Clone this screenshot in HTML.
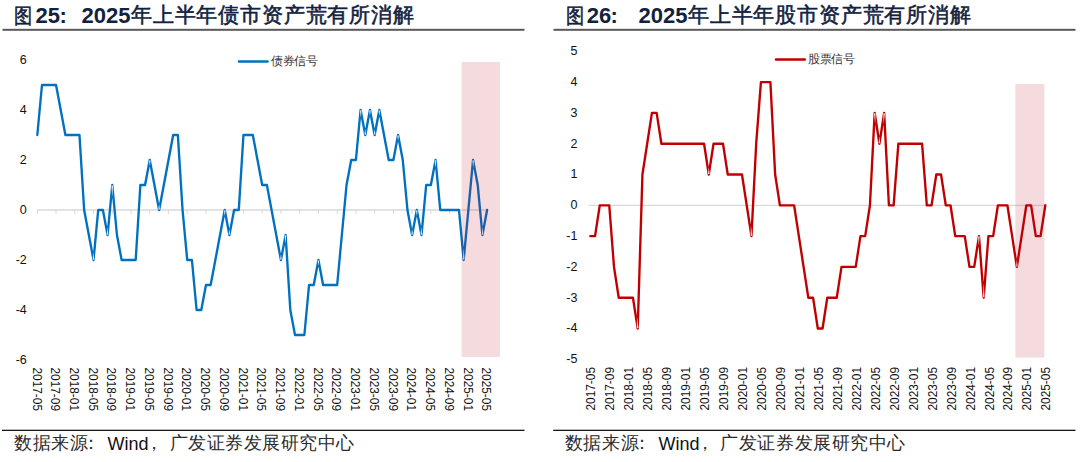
<!DOCTYPE html>
<html><head><meta charset="utf-8">
<style>
html,body{margin:0;padding:0;background:#fff;}
body{width:1080px;height:462px;overflow:hidden;position:relative;}
svg{position:absolute;left:0;top:0;}
</style></head><body>
<svg width="1080" height="462" viewBox="0 0 1080 462" font-family="'Liberation Sans', sans-serif">
<rect x="2.5" y="28.8" width="522" height="2" fill="#595959"/>
<rect x="553.5" y="28.8" width="522" height="2" fill="#595959"/>
<rect x="2" y="429.7" width="522.5" height="1.3" fill="#1a1a1a"/>
<rect x="553.2" y="429.7" width="522.3" height="1.3" fill="#1a1a1a"/>
<line x1="37.3" y1="210.0" x2="487.3" y2="210.0" stroke="#d9d9d9" stroke-width="1.3"/>
<line x1="37.30" y1="210.0" x2="37.30" y2="214.0" stroke="#d9d9d9" stroke-width="1"/>
<line x1="56.04" y1="210.0" x2="56.04" y2="214.0" stroke="#d9d9d9" stroke-width="1"/>
<line x1="74.78" y1="210.0" x2="74.78" y2="214.0" stroke="#d9d9d9" stroke-width="1"/>
<line x1="93.53" y1="210.0" x2="93.53" y2="214.0" stroke="#d9d9d9" stroke-width="1"/>
<line x1="112.27" y1="210.0" x2="112.27" y2="214.0" stroke="#d9d9d9" stroke-width="1"/>
<line x1="131.01" y1="210.0" x2="131.01" y2="214.0" stroke="#d9d9d9" stroke-width="1"/>
<line x1="149.75" y1="210.0" x2="149.75" y2="214.0" stroke="#d9d9d9" stroke-width="1"/>
<line x1="168.49" y1="210.0" x2="168.49" y2="214.0" stroke="#d9d9d9" stroke-width="1"/>
<line x1="187.23" y1="210.0" x2="187.23" y2="214.0" stroke="#d9d9d9" stroke-width="1"/>
<line x1="205.98" y1="210.0" x2="205.98" y2="214.0" stroke="#d9d9d9" stroke-width="1"/>
<line x1="224.72" y1="210.0" x2="224.72" y2="214.0" stroke="#d9d9d9" stroke-width="1"/>
<line x1="243.46" y1="210.0" x2="243.46" y2="214.0" stroke="#d9d9d9" stroke-width="1"/>
<line x1="262.20" y1="210.0" x2="262.20" y2="214.0" stroke="#d9d9d9" stroke-width="1"/>
<line x1="280.94" y1="210.0" x2="280.94" y2="214.0" stroke="#d9d9d9" stroke-width="1"/>
<line x1="299.68" y1="210.0" x2="299.68" y2="214.0" stroke="#d9d9d9" stroke-width="1"/>
<line x1="318.43" y1="210.0" x2="318.43" y2="214.0" stroke="#d9d9d9" stroke-width="1"/>
<line x1="337.17" y1="210.0" x2="337.17" y2="214.0" stroke="#d9d9d9" stroke-width="1"/>
<line x1="355.91" y1="210.0" x2="355.91" y2="214.0" stroke="#d9d9d9" stroke-width="1"/>
<line x1="374.65" y1="210.0" x2="374.65" y2="214.0" stroke="#d9d9d9" stroke-width="1"/>
<line x1="393.39" y1="210.0" x2="393.39" y2="214.0" stroke="#d9d9d9" stroke-width="1"/>
<line x1="412.13" y1="210.0" x2="412.13" y2="214.0" stroke="#d9d9d9" stroke-width="1"/>
<line x1="430.88" y1="210.0" x2="430.88" y2="214.0" stroke="#d9d9d9" stroke-width="1"/>
<line x1="449.62" y1="210.0" x2="449.62" y2="214.0" stroke="#d9d9d9" stroke-width="1"/>
<line x1="468.36" y1="210.0" x2="468.36" y2="214.0" stroke="#d9d9d9" stroke-width="1"/>
<line x1="487.10" y1="210.0" x2="487.10" y2="214.0" stroke="#d9d9d9" stroke-width="1"/>
<text x="26.8" y="64.1" text-anchor="end" font-size="12.5" fill="#111">6</text>
<text x="26.8" y="114.1" text-anchor="end" font-size="12.5" fill="#111">4</text>
<text x="26.8" y="164.1" text-anchor="end" font-size="12.5" fill="#111">2</text>
<text x="26.8" y="214.1" text-anchor="end" font-size="12.5" fill="#111">0</text>
<text x="26.8" y="264.1" text-anchor="end" font-size="12.5" fill="#111">-2</text>
<text x="26.8" y="314.1" text-anchor="end" font-size="12.5" fill="#111">-4</text>
<text x="26.8" y="364.1" text-anchor="end" font-size="12.5" fill="#111">-6</text>
<text transform="translate(32.50,367.5) rotate(90)" font-size="13.6" textLength="43.5" lengthAdjust="spacingAndGlyphs" fill="#111">2017-05</text>
<text transform="translate(51.24,367.5) rotate(90)" font-size="13.6" textLength="43.5" lengthAdjust="spacingAndGlyphs" fill="#111">2017-09</text>
<text transform="translate(69.98,367.5) rotate(90)" font-size="13.6" textLength="43.5" lengthAdjust="spacingAndGlyphs" fill="#111">2018-01</text>
<text transform="translate(88.73,367.5) rotate(90)" font-size="13.6" textLength="43.5" lengthAdjust="spacingAndGlyphs" fill="#111">2018-05</text>
<text transform="translate(107.47,367.5) rotate(90)" font-size="13.6" textLength="43.5" lengthAdjust="spacingAndGlyphs" fill="#111">2018-09</text>
<text transform="translate(126.21,367.5) rotate(90)" font-size="13.6" textLength="43.5" lengthAdjust="spacingAndGlyphs" fill="#111">2019-01</text>
<text transform="translate(144.95,367.5) rotate(90)" font-size="13.6" textLength="43.5" lengthAdjust="spacingAndGlyphs" fill="#111">2019-05</text>
<text transform="translate(163.69,367.5) rotate(90)" font-size="13.6" textLength="43.5" lengthAdjust="spacingAndGlyphs" fill="#111">2019-09</text>
<text transform="translate(182.43,367.5) rotate(90)" font-size="13.6" textLength="43.5" lengthAdjust="spacingAndGlyphs" fill="#111">2020-01</text>
<text transform="translate(201.18,367.5) rotate(90)" font-size="13.6" textLength="43.5" lengthAdjust="spacingAndGlyphs" fill="#111">2020-05</text>
<text transform="translate(219.92,367.5) rotate(90)" font-size="13.6" textLength="43.5" lengthAdjust="spacingAndGlyphs" fill="#111">2020-09</text>
<text transform="translate(238.66,367.5) rotate(90)" font-size="13.6" textLength="43.5" lengthAdjust="spacingAndGlyphs" fill="#111">2021-01</text>
<text transform="translate(257.40,367.5) rotate(90)" font-size="13.6" textLength="43.5" lengthAdjust="spacingAndGlyphs" fill="#111">2021-05</text>
<text transform="translate(276.14,367.5) rotate(90)" font-size="13.6" textLength="43.5" lengthAdjust="spacingAndGlyphs" fill="#111">2021-09</text>
<text transform="translate(294.88,367.5) rotate(90)" font-size="13.6" textLength="43.5" lengthAdjust="spacingAndGlyphs" fill="#111">2022-01</text>
<text transform="translate(313.62,367.5) rotate(90)" font-size="13.6" textLength="43.5" lengthAdjust="spacingAndGlyphs" fill="#111">2022-05</text>
<text transform="translate(332.37,367.5) rotate(90)" font-size="13.6" textLength="43.5" lengthAdjust="spacingAndGlyphs" fill="#111">2022-09</text>
<text transform="translate(351.11,367.5) rotate(90)" font-size="13.6" textLength="43.5" lengthAdjust="spacingAndGlyphs" fill="#111">2023-01</text>
<text transform="translate(369.85,367.5) rotate(90)" font-size="13.6" textLength="43.5" lengthAdjust="spacingAndGlyphs" fill="#111">2023-05</text>
<text transform="translate(388.59,367.5) rotate(90)" font-size="13.6" textLength="43.5" lengthAdjust="spacingAndGlyphs" fill="#111">2023-09</text>
<text transform="translate(407.33,367.5) rotate(90)" font-size="13.6" textLength="43.5" lengthAdjust="spacingAndGlyphs" fill="#111">2024-01</text>
<text transform="translate(426.07,367.5) rotate(90)" font-size="13.6" textLength="43.5" lengthAdjust="spacingAndGlyphs" fill="#111">2024-05</text>
<text transform="translate(444.82,367.5) rotate(90)" font-size="13.6" textLength="43.5" lengthAdjust="spacingAndGlyphs" fill="#111">2024-09</text>
<text transform="translate(463.56,367.5) rotate(90)" font-size="13.6" textLength="43.5" lengthAdjust="spacingAndGlyphs" fill="#111">2025-01</text>
<text transform="translate(482.30,367.5) rotate(90)" font-size="13.6" textLength="43.5" lengthAdjust="spacingAndGlyphs" fill="#111">2025-05</text>
<polyline points="37.30,135.00 41.99,85.00 46.67,85.00 51.36,85.00 56.04,85.00 60.73,110.00 65.41,135.00 70.10,135.00 74.78,135.00 79.47,135.00 84.15,210.00 88.84,235.00 93.53,260.00 98.21,210.00 102.90,210.00 107.58,235.00 112.27,185.00 116.95,235.00 121.64,260.00 126.32,260.00 131.01,260.00 135.69,260.00 140.38,185.00 145.06,185.00 149.75,160.00 154.44,185.00 159.12,210.00 163.81,185.00 168.49,160.00 173.18,135.00 177.86,135.00 182.55,210.00 187.23,260.00 191.92,260.00 196.60,310.00 201.29,310.00 205.98,285.00 210.66,285.00 215.35,260.00 220.03,235.00 224.72,210.00 229.40,235.00 234.09,210.00 238.77,210.00 243.46,135.00 248.14,135.00 252.83,135.00 257.51,160.00 262.20,185.00 266.89,185.00 271.57,210.00 276.26,235.00 280.94,260.00 285.63,235.00 290.31,310.00 295.00,335.00 299.68,335.00 304.37,335.00 309.05,285.00 313.74,285.00 318.43,260.00 323.11,285.00 327.80,285.00 332.48,285.00 337.17,285.00 341.85,235.00 346.54,185.00 351.22,160.00 355.91,160.00 360.59,110.00 365.28,135.00 369.96,110.00 374.65,135.00 379.34,110.00 384.02,135.00 388.71,160.00 393.39,160.00 398.08,135.00 402.76,160.00 407.45,210.00 412.13,235.00 416.82,210.00 421.50,235.00 426.19,185.00 430.88,185.00 435.56,160.00 440.25,210.00 444.93,210.00 449.62,210.00 454.30,210.00 458.99,210.00 463.67,260.00 468.36,210.00 473.04,160.00 477.73,185.00 482.41,235.00 487.10,210.00" fill="none" stroke="#0070c0" stroke-width="2.35" stroke-linejoin="round" stroke-linecap="round"/>
<polygon points="94.31,259.56 92.71,259.64 93.15,251.91" fill="#fff" fill-opacity="0.85"/>
<polygon points="108.36,234.56 106.76,234.64 107.21,226.91" fill="#fff" fill-opacity="0.85"/>
<polygon points="111.47,185.40 113.07,185.40 112.27,197.06" fill="#fff" fill-opacity="0.85"/>
<polygon points="148.95,160.40 150.55,160.40 149.75,166.11" fill="#fff" fill-opacity="0.85"/>
<polygon points="159.92,209.60 158.32,209.60 159.12,203.89" fill="#fff" fill-opacity="0.85"/>
<polygon points="223.92,210.40 225.52,210.40 224.72,216.11" fill="#fff" fill-opacity="0.85"/>
<polygon points="230.20,234.60 228.60,234.60 229.40,228.89" fill="#fff" fill-opacity="0.85"/>
<polygon points="281.74,259.60 280.14,259.60 280.94,253.89" fill="#fff" fill-opacity="0.85"/>
<polygon points="284.80,235.35 286.40,235.45 285.07,244.09" fill="#fff" fill-opacity="0.85"/>
<polygon points="317.62,260.40 319.23,260.40 318.43,266.11" fill="#fff" fill-opacity="0.85"/>
<polygon points="359.81,110.44 361.41,110.36 360.97,118.09" fill="#fff" fill-opacity="0.85"/>
<polygon points="366.08,134.60 364.48,134.60 365.28,128.89" fill="#fff" fill-opacity="0.85"/>
<polygon points="369.16,110.40 370.76,110.40 369.96,116.11" fill="#fff" fill-opacity="0.85"/>
<polygon points="375.45,134.60 373.85,134.60 374.65,128.89" fill="#fff" fill-opacity="0.85"/>
<polygon points="378.54,110.40 380.14,110.40 379.34,116.11" fill="#fff" fill-opacity="0.85"/>
<polygon points="397.28,135.40 398.88,135.40 398.08,141.11" fill="#fff" fill-opacity="0.85"/>
<polygon points="412.93,234.60 411.33,234.60 412.13,228.89" fill="#fff" fill-opacity="0.85"/>
<polygon points="416.02,210.40 417.62,210.40 416.82,216.11" fill="#fff" fill-opacity="0.85"/>
<polygon points="422.28,234.56 420.69,234.64 421.13,226.91" fill="#fff" fill-opacity="0.85"/>
<polygon points="434.74,160.36 436.34,160.44 435.19,168.09" fill="#fff" fill-opacity="0.85"/>
<polygon points="464.47,259.60 462.87,259.60 463.67,247.94" fill="#fff" fill-opacity="0.85"/>
<polygon points="472.26,160.44 473.86,160.36 473.42,168.09" fill="#fff" fill-opacity="0.85"/>
<polygon points="483.23,234.64 481.63,234.56 482.79,226.91" fill="#fff" fill-opacity="0.85"/>
<line x1="239" y1="61.6" x2="267.5" y2="61.6" stroke="#0070c0" stroke-width="2.5" stroke-linecap="round"/>
<rect x="461.6" y="62" width="38.4" height="295" fill="rgb(190,10,35)" fill-opacity="0.15"/>
<line x1="588.8" y1="205.3" x2="1046.0" y2="205.3" stroke="#d9d9d9" stroke-width="1.3"/>
<text x="577.4" y="55.2" text-anchor="end" font-size="12.5" fill="#111">5</text>
<text x="577.4" y="86.0" text-anchor="end" font-size="12.5" fill="#111">4</text>
<text x="577.4" y="116.8" text-anchor="end" font-size="12.5" fill="#111">3</text>
<text x="577.4" y="147.6" text-anchor="end" font-size="12.5" fill="#111">2</text>
<text x="577.4" y="178.4" text-anchor="end" font-size="12.5" fill="#111">1</text>
<text x="577.4" y="209.2" text-anchor="end" font-size="12.5" fill="#111">0</text>
<text x="577.4" y="240.0" text-anchor="end" font-size="12.5" fill="#111">-1</text>
<text x="577.4" y="270.8" text-anchor="end" font-size="12.5" fill="#111">-2</text>
<text x="577.4" y="301.6" text-anchor="end" font-size="12.5" fill="#111">-3</text>
<text x="577.4" y="332.4" text-anchor="end" font-size="12.5" fill="#111">-4</text>
<text x="577.4" y="363.2" text-anchor="end" font-size="12.5" fill="#111">-5</text>
<text transform="translate(595.40,410.5) rotate(-90)" font-size="13.6" textLength="43.5" lengthAdjust="spacingAndGlyphs" fill="#111">2017-05</text>
<text transform="translate(614.36,410.5) rotate(-90)" font-size="13.6" textLength="43.5" lengthAdjust="spacingAndGlyphs" fill="#111">2017-09</text>
<text transform="translate(633.32,410.5) rotate(-90)" font-size="13.6" textLength="43.5" lengthAdjust="spacingAndGlyphs" fill="#111">2018-01</text>
<text transform="translate(652.28,410.5) rotate(-90)" font-size="13.6" textLength="43.5" lengthAdjust="spacingAndGlyphs" fill="#111">2018-05</text>
<text transform="translate(671.24,410.5) rotate(-90)" font-size="13.6" textLength="43.5" lengthAdjust="spacingAndGlyphs" fill="#111">2018-09</text>
<text transform="translate(690.19,410.5) rotate(-90)" font-size="13.6" textLength="43.5" lengthAdjust="spacingAndGlyphs" fill="#111">2019-01</text>
<text transform="translate(709.15,410.5) rotate(-90)" font-size="13.6" textLength="43.5" lengthAdjust="spacingAndGlyphs" fill="#111">2019-05</text>
<text transform="translate(728.11,410.5) rotate(-90)" font-size="13.6" textLength="43.5" lengthAdjust="spacingAndGlyphs" fill="#111">2019-09</text>
<text transform="translate(747.07,410.5) rotate(-90)" font-size="13.6" textLength="43.5" lengthAdjust="spacingAndGlyphs" fill="#111">2020-01</text>
<text transform="translate(766.03,410.5) rotate(-90)" font-size="13.6" textLength="43.5" lengthAdjust="spacingAndGlyphs" fill="#111">2020-05</text>
<text transform="translate(784.99,410.5) rotate(-90)" font-size="13.6" textLength="43.5" lengthAdjust="spacingAndGlyphs" fill="#111">2020-09</text>
<text transform="translate(803.95,410.5) rotate(-90)" font-size="13.6" textLength="43.5" lengthAdjust="spacingAndGlyphs" fill="#111">2021-01</text>
<text transform="translate(822.91,410.5) rotate(-90)" font-size="13.6" textLength="43.5" lengthAdjust="spacingAndGlyphs" fill="#111">2021-05</text>
<text transform="translate(841.86,410.5) rotate(-90)" font-size="13.6" textLength="43.5" lengthAdjust="spacingAndGlyphs" fill="#111">2021-09</text>
<text transform="translate(860.82,410.5) rotate(-90)" font-size="13.6" textLength="43.5" lengthAdjust="spacingAndGlyphs" fill="#111">2022-01</text>
<text transform="translate(879.78,410.5) rotate(-90)" font-size="13.6" textLength="43.5" lengthAdjust="spacingAndGlyphs" fill="#111">2022-05</text>
<text transform="translate(898.74,410.5) rotate(-90)" font-size="13.6" textLength="43.5" lengthAdjust="spacingAndGlyphs" fill="#111">2022-09</text>
<text transform="translate(917.70,410.5) rotate(-90)" font-size="13.6" textLength="43.5" lengthAdjust="spacingAndGlyphs" fill="#111">2023-01</text>
<text transform="translate(936.66,410.5) rotate(-90)" font-size="13.6" textLength="43.5" lengthAdjust="spacingAndGlyphs" fill="#111">2023-05</text>
<text transform="translate(955.62,410.5) rotate(-90)" font-size="13.6" textLength="43.5" lengthAdjust="spacingAndGlyphs" fill="#111">2023-09</text>
<text transform="translate(974.58,410.5) rotate(-90)" font-size="13.6" textLength="43.5" lengthAdjust="spacingAndGlyphs" fill="#111">2024-01</text>
<text transform="translate(993.53,410.5) rotate(-90)" font-size="13.6" textLength="43.5" lengthAdjust="spacingAndGlyphs" fill="#111">2024-05</text>
<text transform="translate(1012.49,410.5) rotate(-90)" font-size="13.6" textLength="43.5" lengthAdjust="spacingAndGlyphs" fill="#111">2024-09</text>
<text transform="translate(1031.45,410.5) rotate(-90)" font-size="13.6" textLength="43.5" lengthAdjust="spacingAndGlyphs" fill="#111">2025-01</text>
<text transform="translate(1050.41,410.5) rotate(-90)" font-size="13.6" textLength="43.5" lengthAdjust="spacingAndGlyphs" fill="#111">2025-05</text>
<polyline points="590.30,236.10 595.04,236.10 599.78,205.30 604.52,205.30 609.26,205.30 614.00,266.90 618.74,297.70 623.48,297.70 628.22,297.70 632.96,297.70 637.70,328.50 642.44,174.50 647.18,143.70 651.92,112.90 656.66,112.90 661.40,143.70 666.14,143.70 670.87,143.70 675.61,143.70 680.35,143.70 685.09,143.70 689.83,143.70 694.57,143.70 699.31,143.70 704.05,143.70 708.79,174.50 713.53,143.70 718.27,143.70 723.01,143.70 727.75,174.50 732.49,174.50 737.23,174.50 741.97,174.50 746.71,205.30 751.45,236.10 756.19,143.70 760.93,82.10 765.67,82.10 770.41,82.10 775.15,174.50 779.89,205.30 784.63,205.30 789.37,205.30 794.11,205.30 798.85,236.10 803.59,266.90 808.33,297.70 813.07,297.70 817.81,328.50 822.55,328.50 827.28,297.70 832.02,297.70 836.76,297.70 841.50,266.90 846.24,266.90 850.98,266.90 855.72,266.90 860.46,236.10 865.20,236.10 869.94,205.30 874.68,112.90 879.42,143.70 884.16,112.90 888.90,205.30 893.64,205.30 898.38,143.70 903.12,143.70 907.86,143.70 912.60,143.70 917.34,143.70 922.08,143.70 926.82,205.30 931.56,205.30 936.30,174.50 941.04,174.50 945.78,205.30 950.52,205.30 955.26,236.10 960.00,236.10 964.74,236.10 969.48,266.90 974.22,266.90 978.96,236.10 983.70,297.70 988.43,236.10 993.17,236.10 997.91,205.30 1002.65,205.30 1007.39,205.30 1012.13,236.10 1016.87,266.90 1021.61,236.10 1026.35,205.30 1031.09,205.30 1035.83,236.10 1040.57,236.10 1045.31,205.30" fill="none" stroke="#c00000" stroke-width="2.35" stroke-linejoin="round" stroke-linecap="round"/>
<polygon points="638.47,328.05 636.87,328.15 636.95,316.24" fill="#fff" fill-opacity="0.85"/>
<polygon points="709.59,174.10 707.99,174.10 708.79,167.10" fill="#fff" fill-opacity="0.85"/>
<polygon points="752.23,235.66 750.63,235.74 750.89,225.06" fill="#fff" fill-opacity="0.85"/>
<polygon points="873.90,113.34 875.50,113.26 875.24,123.94" fill="#fff" fill-opacity="0.85"/>
<polygon points="880.22,143.30 878.62,143.30 879.42,136.30" fill="#fff" fill-opacity="0.85"/>
<polygon points="883.34,113.26 884.94,113.34 883.60,123.94" fill="#fff" fill-opacity="0.85"/>
<polygon points="978.14,236.47 979.74,236.53 978.58,245.92" fill="#fff" fill-opacity="0.85"/>
<polygon points="984.50,297.30 982.90,297.30 983.70,283.04" fill="#fff" fill-opacity="0.85"/>
<polygon points="1017.67,266.50 1016.07,266.50 1016.87,259.50" fill="#fff" fill-opacity="0.85"/>
<line x1="776" y1="59.4" x2="804.8" y2="59.4" stroke="#c00000" stroke-width="2.5" stroke-linecap="round"/>
<rect x="1015.4" y="84" width="29" height="273.5" fill="rgb(190,10,35)" fill-opacity="0.15"/>
<text transform="translate(14.44,22.5) scale(0.87,1)" font-size="21" fill="#12223e" font-weight="normal" stroke="#12223e" stroke-width="0.55">图</text>
<text x="35.60" y="23.3" font-size="22" font-weight="bold" fill="#12223e">25</text>
<text x="59.40" y="23.3" font-size="22" font-weight="bold" fill="#12223e">:</text>
<text x="81.60" y="23.3" font-size="22" font-weight="bold" fill="#12223e">2025</text>
<text x="130.90" y="22.3" font-size="21" fill="#12223e" letter-spacing="0.83" font-weight="normal" stroke="#12223e" stroke-width="0.55">年上半年债市资产荒有所消解</text>
<text transform="translate(565.64,22.5) scale(0.87,1)" font-size="21" fill="#12223e" font-weight="normal" stroke="#12223e" stroke-width="0.55">图</text>
<text x="586.80" y="23.3" font-size="22" font-weight="bold" fill="#12223e">26</text>
<text x="610.60" y="23.3" font-size="22" font-weight="bold" fill="#12223e">:</text>
<text x="638.60" y="23.3" font-size="22" font-weight="bold" fill="#12223e">2025</text>
<text x="687.90" y="22.3" font-size="21" fill="#12223e" letter-spacing="0.83" font-weight="normal" stroke="#12223e" stroke-width="0.55">年上半年股市资产荒有所消解</text>
<text x="14.00" y="449" font-size="17.5" fill="#2b2b2b" letter-spacing="0.57">数据来源</text>
<text x="81.90" y="449" font-size="17.5" fill="#2b2b2b">：</text>
<text x="107.60" y="449.6" font-size="18" fill="#111">Wind</text>
<text x="144.60" y="449" font-size="17.5" fill="#2b2b2b">，</text>
<text x="169.50" y="449" font-size="17.5" fill="#2b2b2b" letter-spacing="0.55">广发证券发展研究中心</text>
<text x="564.90" y="449" font-size="17.5" fill="#2b2b2b" letter-spacing="0.57">数据来源</text>
<text x="632.80" y="449" font-size="17.5" fill="#2b2b2b">：</text>
<text x="658.50" y="449.6" font-size="18" fill="#111">Wind</text>
<text x="695.50" y="449" font-size="17.5" fill="#2b2b2b">，</text>
<text x="720.40" y="449" font-size="17.5" fill="#2b2b2b" letter-spacing="0.55">广发证券发展研究中心</text>
<text x="271.3" y="65.3" font-size="11.5" fill="#333" letter-spacing="-0.45">债券信号</text>
<text x="808.0" y="63.2" font-size="11.5" fill="#333" letter-spacing="-0.4">股票信号</text>
</svg>
</body></html>
